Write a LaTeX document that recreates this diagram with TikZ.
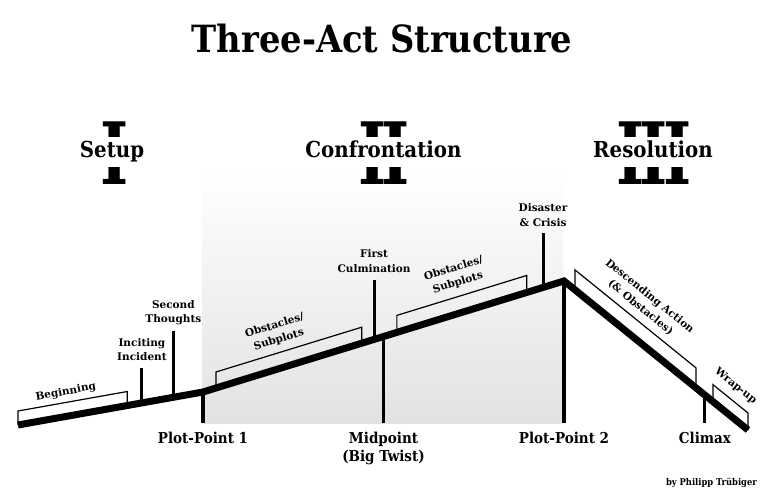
\documentclass[tikz,border=0pt]{standalone}
\usepackage{graphicx}
\usepackage{fontspec}
\setmainfont{DejaVu Serif}
\newfontfamily\condfont{DejaVu Serif Condensed}
\usetikzlibrary{calc, positioning}
\definecolor{shadegray}{RGB}{226, 226, 226}

\tikzset{
  storyline/.style={line width=7pt, line join=miter, line cap=butt},
  beat/.style={line width=3pt},
  pillar/.style={line width=3.5pt},
  bracketline/.style={line width=1.2pt, line join=miter},
  beatlabel/.style={font=\bfseries\fontsize{10.5}{14.5}\selectfont, align=center, inner sep=0pt},
  pointlabel/.style={font=\condfont\bfseries\fontsize{15}{18}\selectfont, align=center, inner sep=0pt},
  actnum/.style={font=\bfseries\fontsize{86}{86}\selectfont, inner sep=0pt},
  actname/.style={font=\condfont\bfseries\fontsize{22}{24}\selectfont, fill=white,
    text height=16pt, text depth=4pt, inner xsep=2pt, inner ysep=5pt},
}

\begin{document}
\begin{tikzpicture}[x=1pt, y=1pt]
  \useasboundingbox (0,0) rectangle (768,490);

  % Title
  \node[font=\condfont\bfseries\fontsize{37.5}{40}\selectfont, anchor=base] (title) at (382,437) {Three-Act Structure};

  % Act II band
  \shade[top color=white, bottom color=shadegray] (202,67) rectangle (563,320);

  % Act headings
  \node[actnum] (num1) at (114.5,336.5) {\scalebox{0.7}[1]{I}};
  \node[actnum] (num2) at (384,336.5) {\scalebox{0.7}[1]{I\kern-7pt I}};
  \node[actnum] (num3) at (654,336.5) {\scalebox{0.7}[1]{I\kern-7pt I\kern-7pt I}};
  \node[actname] (setup) at (112,338) {Setup};
  \node[actname] (confrontation) at (383.5,338) {Confrontation};
  \node[actname] (resolution) at (653,338) {Resolution};

  % Story line points
  \coordinate (start) at (18,65);
  \coordinate (pp1) at (203,98);
  \coordinate (peak) at (564,209);
  \coordinate (finish) at (748,60);
  \coordinate (floor) at (0,67);

  % Brackets
  \draw[bracketline] (start) -- ++(0,14) coordinate (b1a) -- ($(start)!0.59!(pp1)+(0,14)$) coordinate (b1b) -- ++(0,-14);
  \path (b1a) -- node[sloped, above=5pt, pos=0.455, beatlabel] (beginning) {Beginning} (b1b);

  \draw[bracketline] ($(pp1)!0.036!(peak)$) -- ++(0,16) coordinate (b2a) -- ($(pp1)!0.44!(peak)+(0,16)$) coordinate (b2b) -- ++(0,-16);
  \path (b2a) -- node[sloped, above=7pt, pos=0.456, beatlabel] (obstacles1) {Obstacles/\\Subplots} (b2b);

  \draw[bracketline] ($(pp1)!0.537!(peak)$) -- ++(0,17) coordinate (b3a) -- ($(pp1)!0.897!(peak)+(0,17)$) coordinate (b3b) -- ++(0,-17);
  \path (b3a) -- node[sloped, above=8pt, pos=0.5, beatlabel] (obstacles2) {Obstacles/\\Subplots} (b3b);

  \draw[bracketline] ($(peak)!0.06!(finish)$) -- ++(0,20) coordinate (b4a) -- ($(peak)!0.717!(finish)+(0,20)$) coordinate (b4b) -- ++(0,-20);
  \path (b4a) -- node[sloped, above=7pt, pos=0.48, beatlabel] (descending) {Descending Action\\(\& Obstacles)} (b4b);

  \draw[bracketline] ($(peak)!0.81!(finish)$) -- ++(0,17) coordinate (b5a) -- ($(peak)!1!(finish)+(0,17)$) coordinate (b5b) -- ++(0,-17);
  \path (b5a) -- node[sloped, above=8pt, pos=0.41, beatlabel] (wrapup) {Wrap-up} (b5b);

  % Beats above the line
  \coordinate (inc) at ($(start)!0.67!(pp1)$);
  \coordinate (sec) at ($(start)!0.84!(pp1)$);
  \coordinate (cul) at ($(pp1)!0.474!(peak)$);
  \coordinate (dis) at ($(pp1)!0.942!(peak)$);
  \draw[beat] (inc) -- ++(0,35) coordinate (inctop);
  \draw[beat] (sec) -- ++(0,66) coordinate (sectop);
  \draw[beat] (cul) -- ++(0,59) coordinate (cultop);
  \draw[beat] (dis) -- ++(0,54) coordinate (distop);
  \node[beatlabel, above=7pt of inctop] (inciting) {Inciting\\Incident};
  \node[beatlabel, above=6pt of sectop] (second) {Second\\Thoughts};
  \node[beatlabel, above=8pt of cultop] (culmination) {First\\Culmination};
  \node[beatlabel, above=7pt of distop] (disaster) {Disaster\\\& Crisis};

  % Turning points below the line
  \coordinate (mid) at ($(pp1)!0.5!(peak)$);
  \coordinate (clx) at ($(peak)!0.766!(finish)$);
  \draw[pillar] (pp1) -- (pp1 |- floor) coordinate (pp1foot);
  \draw[pillar] (mid) -- (mid |- floor) coordinate (midfoot);
  \draw[pillar] (peak) -- (peak |- floor) coordinate (pp2foot);
  \draw[beat] (clx) -- (clx |- floor) coordinate (clxfoot);
  \node[pointlabel, below=9pt of pp1foot] (plotpoint1) {Plot-Point 1};
  \node[pointlabel, below=9pt of midfoot] (midpoint) {Midpoint\\(Big Twist)};
  \node[pointlabel, below=9pt of pp2foot] (plotpoint2) {Plot-Point 2};
  \node[pointlabel, below=9pt of clxfoot] (climax) {Climax};

  % Story line
  \draw[storyline] (start) -- (pp1) -- (peak) -- (finish);

  % Credit
  \node[font=\condfont\bfseries\fontsize{9.3}{11}\selectfont, anchor=base east, inner sep=0pt] (credit) at (757,5) {by Philipp Tr\"ubiger};
\end{tikzpicture}
\end{document}
